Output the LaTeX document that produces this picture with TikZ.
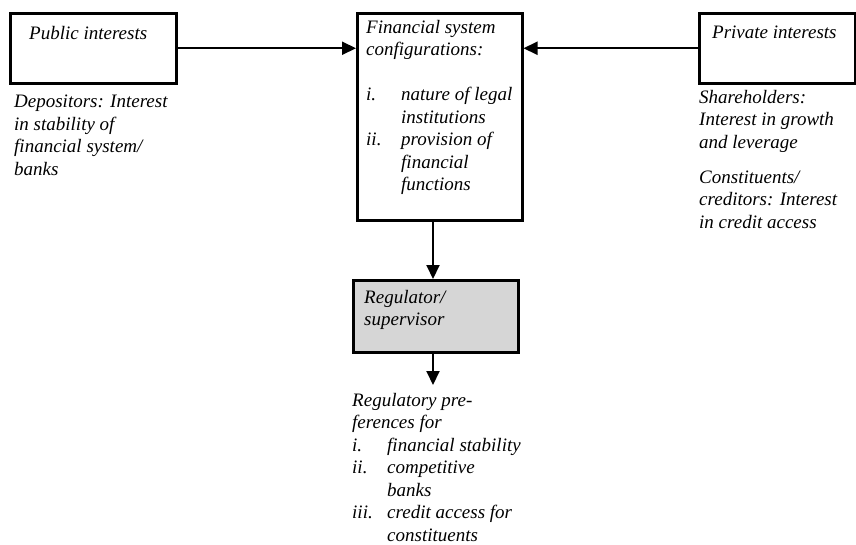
\documentclass[tikz,border=0pt]{standalone}
\usepackage{fontspec}
\setmainfont{Liberation Serif}
\usetikzlibrary{arrows.meta}
\begin{document}
\begin{tikzpicture}[x=1pt,y=-1pt,
  boxst/.style={draw=black,line width=2.5pt,anchor=north west,inner sep=0pt},
  txt/.style={anchor=base west,inner sep=0pt,align=left,font=\itshape\fontsize{19}{22.5}\selectfont},
  arr/.style={line width=2pt,-{Triangle[length=14pt,width=13pt]}}]
\useasboundingbox (0,0) rectangle (856,544);
% boxes
\node[boxst,minimum width=166pt,minimum height=70pt] (pub) at (9,12) {};
\node[boxst,minimum width=156pt,minimum height=70pt] (priv) at (698,12) {};
\node[boxst,minimum width=165pt,minimum height=207pt] (fin) at (356,12) {};
\node[boxst,fill=black!16,minimum width=165pt,minimum height=72pt] (reg) at (352,279) {};
% texts (anchored at the baseline of the last line)
\node[txt] (pubtext) at (29,39) {Public interests};
\node[txt] (privtext) at (712,38) {Private interests};
\node[txt] (deptext) at (14,175) {Depositors: Interest\\in stability of\\financial system/\\banks};
\node[txt] (sharetext) at (699,148) {Shareholders:\\Interest in growth\\and leverage};
\node[txt] (consttext) at (699,228) {Constituents/\\creditors: Interest\\in credit access};
\node[txt] (fintext) at (366,190.5) {Financial system\\configurations:\\[22.5pt]%
\makebox[35pt][l]{i.}nature of legal\\\hspace*{35pt}institutions\\%
\makebox[35pt][l]{ii.}provision of\\\hspace*{35pt}financial\\\hspace*{35pt}functions};
\node[txt] (regtext) at (364,325.5) {Regulator/\\supervisor};
\node[txt] (preftext) at (352,541) {Regulatory pre-\\ferences for\\%
\makebox[35pt][l]{i.}financial stability\\%
\makebox[35pt][l]{ii.}competitive\\\hspace*{35pt}banks\\%
\makebox[35pt][l]{iii.}credit access for\\\hspace*{35pt}constituents};
% connectors
\coordinate (prefin) at (433,385);
\draw[arr] (pub.east) -- (pub.east -| fin.west);
\draw[arr] (priv.west) -- (priv.west -| fin.east);
\draw[arr] (fin.south -| prefin) -- (reg.north -| prefin);
\draw[arr] (reg.south -| prefin) -- (prefin);
\end{tikzpicture}
\end{document}
